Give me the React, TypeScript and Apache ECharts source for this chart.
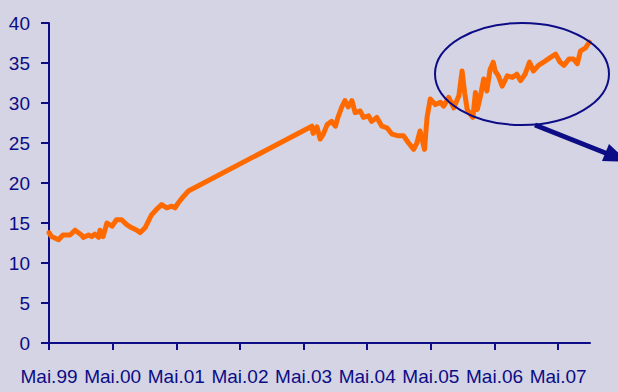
import React, { useEffect, useRef } from "react";
import * as echarts from "echarts";

// Years elapsed since May 1999 and the closing price at that point
const xYears = [
  0.0, 0.04, 0.15, 0.22, 0.33, 0.41, 0.51, 0.54, 0.62, 0.67, 0.72, 0.78, 0.8,
  0.85, 0.91, 0.99, 1.06, 1.14, 1.22, 1.3, 1.38, 1.43, 1.51, 1.56, 1.61,
  1.69, 1.77, 1.85, 1.93, 1.98, 2.03, 2.11, 2.19,
  4.13, 4.15, 4.21, 4.26, 4.31, 4.37, 4.44, 4.5, 4.54, 4.6, 4.65, 4.7, 4.76,
  4.81, 4.89, 4.94, 5.02, 5.07, 5.15, 5.23, 5.31, 5.39, 5.49, 5.57, 5.65,
  5.73, 5.78, 5.83, 5.9, 5.94, 5.99, 6.07, 6.15, 6.2, 6.28, 6.36, 6.44,
  6.49, 6.53, 6.57, 6.62, 6.66, 6.7, 6.73, 6.78, 6.83, 6.88, 6.93, 6.98,
  7.01, 7.06, 7.12, 7.2, 7.28, 7.35, 7.41, 7.48, 7.55, 7.61, 7.69, 7.77,
  7.88, 7.96, 8.03, 8.09, 8.17, 8.24, 8.3, 8.35, 8.43, 8.49,
];
const values = [
  13.8, 13.3, 12.9, 13.5, 13.5, 14.1, 13.5, 13.2, 13.5, 13.3, 13.6, 13.2, 14.1,
  13.3, 15.0, 14.6, 15.4, 15.4, 14.8, 14.4, 14.1, 13.8, 14.4, 15.2, 16.0,
  16.7, 17.3, 16.9, 17.1, 16.9, 17.5, 18.3, 19.0,
  27.1, 26.2, 27.0, 25.5, 26.1, 27.3, 27.7, 27.1, 28.2, 29.5, 30.3, 29.5, 30.3,
  28.8, 29.0, 28.2, 28.4, 27.7, 28.2, 27.1, 26.9, 26.1, 25.9, 25.9, 25.0,
  24.2, 25.0, 26.5, 24.2, 28.2, 30.5, 29.8, 30.1, 29.6, 30.7, 29.4, 30.9,
  34.0, 31.3, 29.2, 28.6, 28.2, 31.3, 29.2, 30.9, 33.0, 31.5, 34.2, 35.1,
  34.0, 33.4, 32.1, 33.4, 33.2, 33.6, 32.8, 33.6, 35.1, 34.0, 34.7, 35.1,
  35.7, 36.1, 35.1, 34.7, 35.5, 35.5, 34.9, 36.5, 36.9, 37.6,
];
const xTickValues = [0, 1, 2, 3, 4, 5, 6, 7, 8];
const xTickLabels = [
  "Mai.99", "Mai.00", "Mai.01", "Mai.02", "Mai.03",
  "Mai.04", "Mai.05", "Mai.06", "Mai.07",
];

const NAVY = "#0c0c86";
const ORANGE = "#ff6a00";
const FONT = '"Liberation Sans", Arial, sans-serif';

export default function App() {
  const ref = useRef<HTMLDivElement>(null);

  useEffect(() => {
    if (!ref.current) return;
    const chart = echarts.init(ref.current, undefined, { renderer: "svg" });
    chart.setOption({
      animation: false,
      backgroundColor: "#d4d4e4",
      grid: { left: 49, right: 28, top: 23, bottom: 49 },
      xAxis: {
        type: "value",
        min: 0,
        max: 8.5,
        splitLine: { show: false },
        axisLine: { show: true, lineStyle: { color: NAVY, width: 2 } },
        axisTick: {
          show: true,
          customValues: xTickValues,
          length: 7,
          lineStyle: { color: NAVY, width: 2 },
        },
        axisLabel: {
          customValues: xTickValues,
          formatter: (v: number) => xTickLabels[Math.round(v)] ?? "",
          color: NAVY,
          fontFamily: FONT,
          fontSize: 19,
          margin: 24,
        },
      },
      yAxis: {
        type: "value",
        min: 0,
        max: 40,
        interval: 5,
        splitLine: { show: false },
        axisLine: { show: true, lineStyle: { color: NAVY, width: 2 } },
        axisTick: { show: true, length: 8, lineStyle: { color: NAVY, width: 2 } },
        axisLabel: {
          color: NAVY,
          fontFamily: FONT,
          fontSize: 19,
          margin: 19,
        },
      },
      series: [
        {
          type: "line",
          showSymbol: false,
          data: xYears.map((x, i) => [x, values[i]]),
          lineStyle: { color: ORANGE, width: 5, join: "round", cap: "round" },
          z: 3,
        },
      ],
      graphic: [
        {
          type: "ellipse",
          z: 100,
          shape: { cx: 522, cy: 74, rx: 87, ry: 51 },
          style: { fill: "none", stroke: NAVY, lineWidth: 2 },
        },
        {
          type: "line",
          z: 100,
          shape: { x1: 535, y1: 125, x2: 608, y2: 154 },
          style: { stroke: NAVY, lineWidth: 5 },
        },
        {
          type: "polygon",
          z: 100,
          shape: { points: [[628, 162], [602, 161], [609, 144]] },
          style: { fill: NAVY },
        },
      ],
    });
    return () => chart.dispose();
  }, []);

  return (
    <div
      ref={ref}
      style={{ position: "fixed", left: 0, top: 0, width: 618, height: 392 }}
    />
  );
}
